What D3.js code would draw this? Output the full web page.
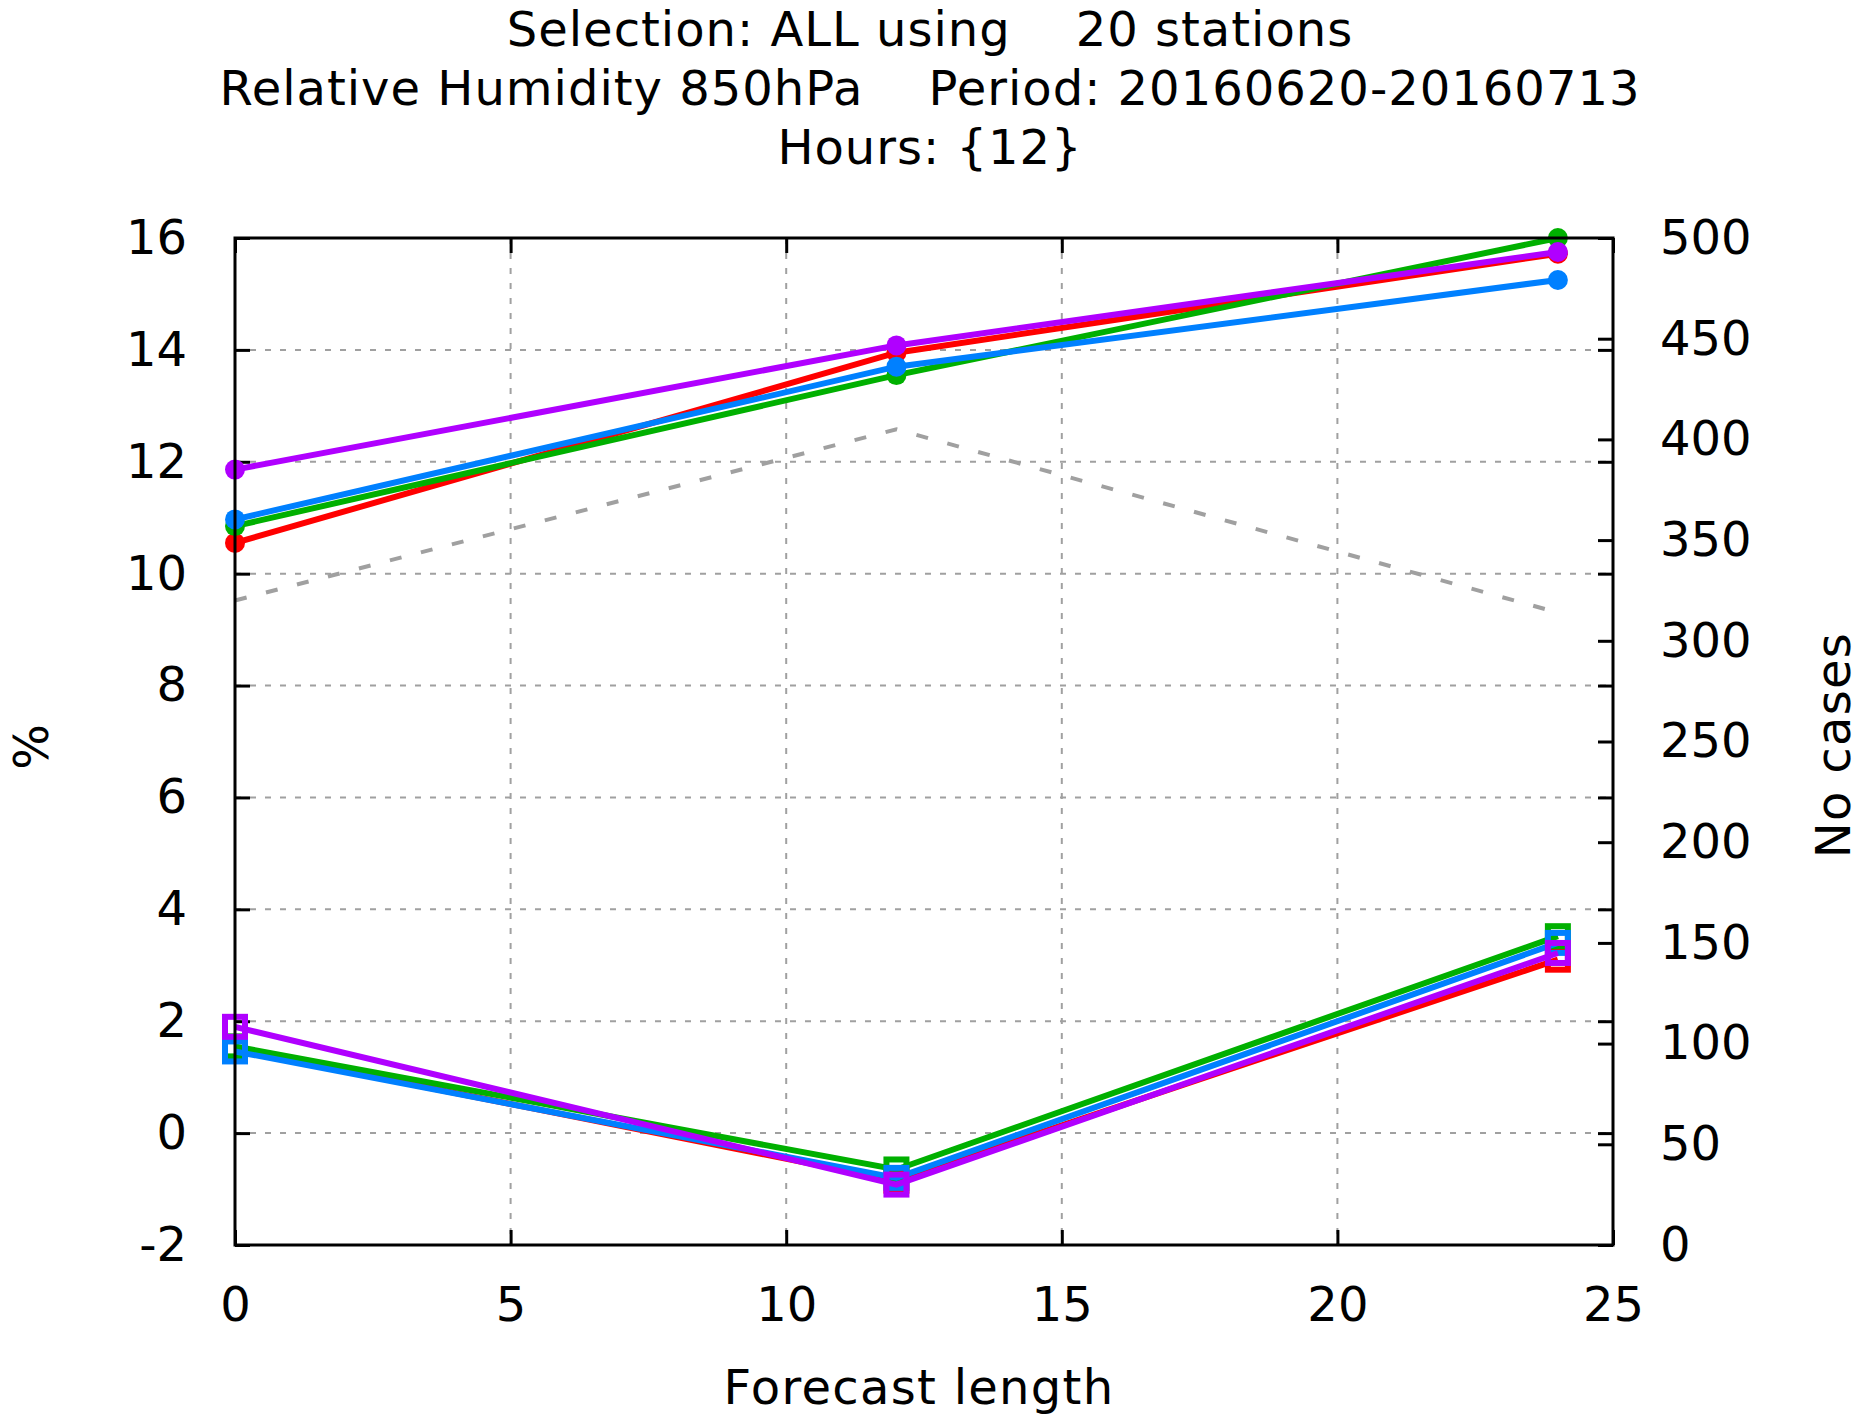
<!DOCTYPE html>
<html>
<head>
<meta charset="utf-8">
<script src="https://cdn.jsdelivr.net/npm/d3@7"></script>
<style>
  body { margin: 0; background: #fff; }
  text { font-family: "DejaVu Sans", sans-serif; fill: #000; white-space: pre; }
</style>
</head>
<body>
<div id="chart"></div>
<script>
// forecast lengths (hours)
var leadTimes = [0, 12, 24];

// upper group of curves (filled markers)
var redUpper    = [10.55, 13.95, 15.72];
var greenUpper  = [10.85, 13.55, 16.0];
var blueUpper   = [10.97, 13.70, 15.25];
var purpleUpper = [11.86, 14.08, 15.75];

// lower group of curves (open squares)
var redLower    = [1.50, -0.85, 3.10];
var greenLower  = [1.55, -0.65, 3.52];
var blueLower   = [1.46, -0.80, 3.40];
var purpleLower = [1.90, -0.92, 3.22];

// number of cases, right axis
var noCases = [320, 405, 314];

var xTicks = [0, 5, 10, 15, 20, 25];
var yTicks = [-2, 0, 2, 4, 6, 8, 10, 12, 14, 16];
var y2Ticks = [0, 50, 100, 150, 200, 250, 300, 350, 400, 450, 500];

var titleLines = [
  "Selection: ALL using    20 stations",
  "Relative Humidity 850hPa    Period: 20160620-20160713",
  "Hours: {12}"
];

var colors = { red: "#ff0000", green: "#00b000", blue: "#0080ff", purple: "#b000ff" };

// draw order: red first, purple on top
var series = [
  { c: colors.red, upper: redUpper, lower: redLower },
  { c: colors.green, upper: greenUpper, lower: greenLower },
  { c: colors.blue, upper: blueUpper, lower: blueLower },
  { c: colors.purple, upper: purpleUpper, lower: purpleLower }
];

var W = 1860, H = 1424;
var margin = {top: 238, right: 247, bottom: 179, left: 235},
    width = W - margin.left - margin.right,
    height = H - margin.top - margin.bottom;

var x = d3.scaleLinear().domain([0, 25]).range([0, width]);
var y = d3.scaleLinear().domain([-2, 16]).range([height, 0]);
var y2 = d3.scaleLinear().domain([0, 500]).range([height, 0]);

// plain hyphen for negatives, like the original
var fmt = function(d) { return String(d); };

var svg = d3.select("#chart").append("svg")
    .attr("width", W)
    .attr("height", H);

// title
svg.append("g").selectAll("text")
    .data(titleLines)
  .enter().append("text")
    .attr("x", 930)
    .attr("y", function(d, i) { return 46 + i * 59; })
    .attr("text-anchor", "middle")
    .style("font-size", "48px")
    .style("letter-spacing", "1px")
    .text(function(d) { return d; });

var g = svg.append("g")
    .attr("transform", "translate(" + margin.left + "," + margin.top + ")");

// grid
var gridStyle = function(sel) {
  sel.attr("stroke", "#a0a0a0").attr("stroke-width", 2).attr("stroke-dasharray", "6,9");
};
g.append("g").selectAll("line")
    .data(xTicks.slice(1, -1))
  .enter().append("line")
    .attr("x1", function(d) { return x(d); })
    .attr("x2", function(d) { return x(d); })
    .attr("y1", 0).attr("y2", height)
    .call(gridStyle);
g.append("g").selectAll("line")
    .data(yTicks.slice(1, -1))
  .enter().append("line")
    .attr("y1", function(d) { return y(d); })
    .attr("y2", function(d) { return y(d); })
    .attr("x1", 0).attr("x2", width)
    .call(gridStyle);

// axes with inward ticks
function styleAxis(sel) {
  sel.select(".domain").remove();
  sel.selectAll(".tick line").attr("stroke", "#000").attr("stroke-width", 3);
  sel.selectAll(".tick text").style("font-size", "48px").attr("fill", "#000");
}

g.append("g")
    .attr("transform", "translate(0," + height + ")")
    .call(d3.axisBottom(x).tickValues(xTicks).tickSize(-15).tickPadding(30).tickFormat(fmt))
    .call(styleAxis)
    .selectAll(".tick text").attr("dy", "0.95em");

g.append("g")
    .call(d3.axisTop(x).tickValues(xTicks).tickSize(-15).tickFormat(""))
    .call(styleAxis);

g.append("g")
    .call(d3.axisLeft(y).tickValues(yTicks).tickSize(-15).tickPadding(48).tickFormat(fmt))
    .call(styleAxis);

g.append("g")
    .attr("transform", "translate(" + width + ",0)")
    .call(d3.axisRight(y).tickValues(yTicks).tickSize(-15).tickFormat(""))
    .call(styleAxis);

g.append("g")
    .attr("transform", "translate(" + width + ",0)")
    .call(d3.axisRight(y2).tickValues(y2Ticks).tickSize(-15).tickPadding(47).tickFormat(fmt))
    .call(styleAxis);

// number of cases, gray dashed
var caseLine = d3.line()
    .x(function(d, i) { return x(leadTimes[i]); })
    .y(function(d) { return y2(d); });
g.append("path")
    .datum(noCases)
    .attr("fill", "none")
    .attr("stroke", "#a0a0a0")
    .attr("stroke-width", 4)
    .attr("stroke-dasharray", "12,20")
    .attr("d", caseLine);

var valueline = d3.line()
    .x(function(d, i) { return x(leadTimes[i]); })
    .y(function(d) { return y(d); });

// lower curves with open squares
series.forEach(function(s) {
  g.append("path")
      .datum(s.lower)
      .attr("fill", "none")
      .attr("stroke", s.c)
      .attr("stroke-width", 6)
      .attr("d", valueline);
  g.append("g").selectAll("rect")
      .data(s.lower)
    .enter().append("rect")
      .attr("x", function(d, i) { return x(leadTimes[i]) - 10; })
      .attr("y", function(d) { return y(d) - 10; })
      .attr("width", 20).attr("height", 20)
      .attr("fill", "none")
      .attr("stroke", s.c)
      .attr("stroke-width", 6);
});

// upper curves with filled markers
series.forEach(function(s) {
  g.append("path")
      .datum(s.upper)
      .attr("fill", "none")
      .attr("stroke", s.c)
      .attr("stroke-width", 6)
      .attr("d", valueline);
  g.append("g").selectAll("circle")
      .data(s.upper)
    .enter().append("circle")
      .attr("cx", function(d, i) { return x(leadTimes[i]); })
      .attr("cy", function(d) { return y(d); })
      .attr("r", 10)
      .attr("fill", s.c);
});

// frame
g.append("rect")
    .attr("width", width).attr("height", height)
    .attr("fill", "none")
    .attr("stroke", "#000")
    .attr("stroke-width", 3);

// axis labels
svg.append("text")
    .attr("x", 919).attr("y", 1404)
    .attr("text-anchor", "middle")
    .style("font-size", "48px")
    .style("letter-spacing", "1.3px")
    .text("Forecast length");

svg.append("text")
    .attr("transform", "translate(48,747) rotate(-90)")
    .attr("text-anchor", "middle")
    .style("font-size", "48px")
    .text("%");

svg.append("text")
    .attr("transform", "translate(1850,745) rotate(-90)")
    .attr("text-anchor", "middle")
    .style("font-size", "48px")
    .style("letter-spacing", "1.3px")
    .text("No cases");
</script>
</body>
</html>
